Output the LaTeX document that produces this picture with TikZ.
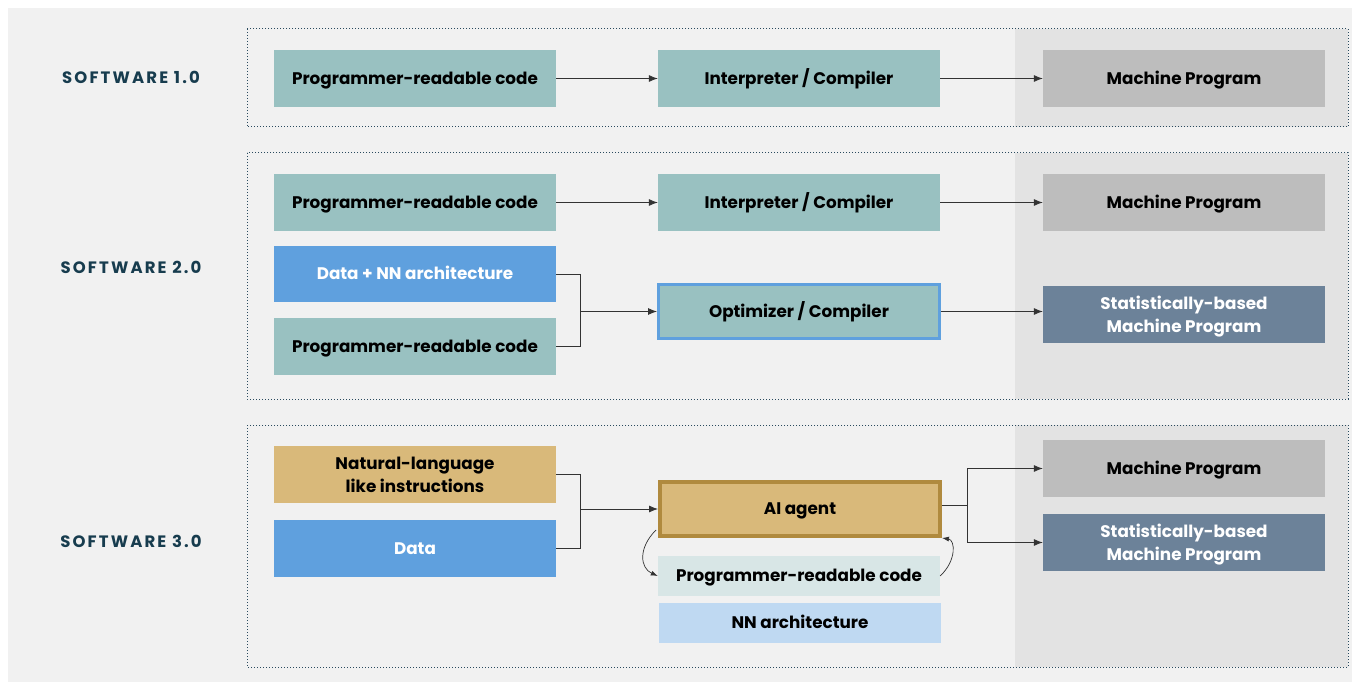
\documentclass[tikz,border=0pt]{standalone}
\usepackage{fontspec}
\setmainfont{Poppins}
\newfontfamily\labelfont{Poppins}[LetterSpace=13]
\usetikzlibrary{arrows.meta}
\definecolor{bgc}{HTML}{F1F1F1}
\definecolor{darkbg}{HTML}{E3E3E3}
\definecolor{teal}{HTML}{99C1C1}
\definecolor{mgray}{HTML}{BDBDBD}
\definecolor{blu}{HTML}{5FA0DE}
\definecolor{slate}{HTML}{6C8299}
\definecolor{gold}{HTML}{D9B97A}
\definecolor{goldb}{HTML}{B08A3E}
\definecolor{lteal}{HTML}{D8E6E6}
\definecolor{lblu}{HTML}{BFD9F2}
\definecolor{dots}{HTML}{2A4A5E}
\definecolor{lab}{HTML}{173C4E}
\definecolor{conn}{HTML}{333333}
\tikzset{
  box/.style={minimum width=282pt, minimum height=57pt, inner sep=0pt, align=center,
     text height=11.8pt, text depth=0pt,
     font=\fontsize{16.8}{23}\selectfont\bfseries, text=black},
  twoline/.style={text height=35pt, text depth=0pt},
  tealbox/.style={box, fill=teal},
  graybox/.style={box, fill=mgray},
  bluebox/.style={box, fill=blu, text=white},
  slatebox/.style={box, fill=slate, text=white},
  goldbox/.style={box, fill=gold},
  frame/.style={draw=dots, dotted, line width=1pt},
  sw/.style={font=\labelfont\fontsize{16.5}{20}\selectfont\bfseries, text=lab,
     text height=11.8pt, text depth=0pt},
  arr/.style={draw=conn, line width=0.8pt, -{Latex[length=9pt,width=7pt]}},
  ln/.style={draw=conn, line width=0.8pt},
}
\begin{document}
\begin{tikzpicture}[x=1pt,y=-1pt]
\useasboundingbox (0,0) rectangle (1360,687);
\fill[white] (0,0) rectangle (1360,687);
\fill[bgc] (8,8) rectangle (1352,682);
% dark right regions
\fill[darkbg] (1015,29) rectangle (1348,127);
\fill[darkbg] (1015,153) rectangle (1348,399);
\fill[darkbg] (1015,425) rectangle (1348,667);
% frames
\draw[frame] (247,29) rectangle (1348,127);
\draw[frame] (247,153) rectangle (1348,399);
\draw[frame] (247,425) rectangle (1348,667);
% labels
\node[sw] (l1) at (131,78) {SOFTWARE 1.0};
\node[sw] (l2) at (131,268) {SOFTWARE 2.0};
\node[sw] (l3) at (131,542) {SOFTWARE 3.0};
% row 1
\node[tealbox] (a1) at (415,78.5) {Programmer-readable code};
\node[tealbox] (b1) at (799,78.5) {Interpreter / Compiler};
\node[graybox] (c1) at (1184,78.5) {Machine Program};
\draw[arr] (a1) -- (b1);
\draw[arr] (b1) -- (c1);
% row 2
\node[tealbox] (a2) at (415,202.5) {Programmer-readable code};
\node[tealbox] (b2) at (799,202.5) {Interpreter / Compiler};
\node[graybox] (c2) at (1184,202.5) {Machine Program};
\draw[arr] (a2) -- (b2);
\draw[arr] (b2) -- (c2);
\node[bluebox, minimum height=56pt] (d2) at (415,274) {Data + NN architecture};
\node[tealbox] (e2) at (415,346.5) {Programmer-readable code};
\node[tealbox, draw=blu, line width=3pt, minimum width=281pt, minimum height=54pt] (o2) at (799,311.5) {Optimizer / Compiler};
\node[slatebox, twoline] (s2) at (1184,314.5) {Statistically-based\\Machine Program};
\coordinate (j2) at (580,311.5);
\draw[ln] (d2.east) -| (j2);
\draw[ln] (e2.east) -| (j2);
\draw[arr] (j2) -- (o2.west);
\draw[arr] (o2.east) -- (o2.east -| s2.west);
% row 3
\node[goldbox, twoline] (n3) at (415,474.5) {Natural-language\\like instructions};
\node[bluebox] (d3) at (415,548.5) {Data};
\node[goldbox, draw=goldb, line width=4pt, minimum width=280pt, minimum height=54pt] (ai) at (800,509) {AI agent};
\node[box, fill=lteal, minimum height=40pt] (p3) at (799,576) {Programmer-readable code};
\node[box, fill=lblu, minimum height=40pt] (nn) at (800,623) {NN architecture};
\node[graybox] (m3) at (1184,468.5) {Machine Program};
\node[slatebox, twoline] (s3) at (1184,542.5) {Statistically-based\\Machine Program};
\coordinate (j3) at (580,509);
\draw[ln] (n3.east) -| (j3);
\draw[ln] (d3.east) -| (j3);
\draw[arr] (j3) -- (ai.west);
\coordinate (k3) at (967,505);
\draw[ln] (ai.east |- k3) -- (k3);
\draw[arr] (k3) |- (m3.west);
\draw[arr] (k3) |- (s3.west);
% curved arrows
\draw[draw=conn, line width=0.7pt, -{Latex[length=7pt,width=5pt]}] (ai.south west) ++(-2,-8) .. controls (638,548) and (640,568) .. (p3.west);
\draw[draw=conn, line width=0.7pt, -{Latex[length=7pt,width=5pt]}] (p3.east) .. controls (957,560) and (955,540) .. (ai.south east);
\end{tikzpicture}
\end{document}
